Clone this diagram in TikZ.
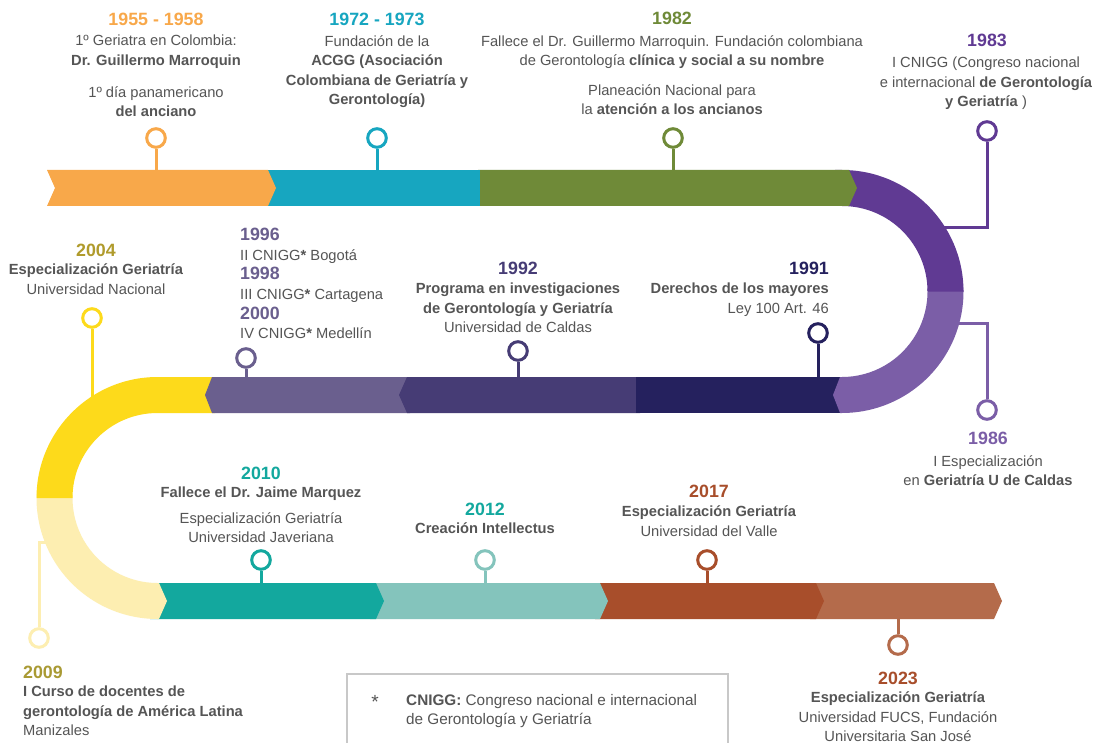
\documentclass[tikz,border=0pt]{standalone}
\usepackage{fontspec}
\setmainfont{Liberation Sans}
\definecolor{tgray}{HTML}{555555}
\definecolor{corange}{HTML}{F8A84A}
\definecolor{cteal}{HTML}{17A6C0}
\definecolor{cgreen}{HTML}{6F8A38}
\definecolor{cpurple}{HTML}{603A93}
\definecolor{clpurple}{HTML}{7B5EA7}
\definecolor{cnavy}{HTML}{25215E}
\definecolor{cdpurple}{HTML}{463C75}
\definecolor{clav}{HTML}{6A5F8E}
\definecolor{cyellow}{HTML}{FDDA1B}
\definecolor{clyellow}{HTML}{FDEEB1}
\definecolor{cteal2}{HTML}{13A89E}
\definecolor{clteal}{HTML}{84C4BC}
\definecolor{crust}{HTML}{A84E2B}
\definecolor{clrust}{HTML}{B46B4B}
\definecolor{colive}{HTML}{B09B2C}
\definecolor{colive2}{HTML}{A99A34}
\definecolor{cboxline}{HTML}{C8C8C8}
\newcommand{\yrtxt}[2]{{\fontsize{17.8}{19.6}\selectfont\bfseries\color{#1}#2}}
\begin{document}
\begin{tikzpicture}[x=1pt,y=-1pt,
  body/.style={font=\fontsize{14.7}{19.5}\selectfont, text=tgray, inner sep=0pt, align=center, anchor=north},
  year/.style={font=\fontsize{17.8}{20}\selectfont\bfseries, inner sep=0pt, anchor=base},
  stem/.style={line width=3pt},
  pinhead/.style={circle, draw, line width=3pt, fill=white, minimum size=18.6pt, inner sep=0pt}]
\useasboundingbox (0,0) rectangle (1097,743);
\fill[white] (0,0) rectangle (1097,743);

% ---------- pins (drawn first, bands cover stem ends) ----------
\node[pinhead, draw=corange] (p1955) at (156,138) {};
\coordinate (b1955) at (156,175);
\draw[stem, corange] (p1955) -- (b1955);
\node[pinhead, draw=cteal] (p1972) at (377,138) {};
\coordinate (b1972) at (377,175);
\draw[stem, cteal] (p1972) -- (b1972);
\node[pinhead, draw=cgreen] (p1982) at (673,138) {};
\coordinate (b1982) at (673,175);
\draw[stem, cgreen] (p1982) -- (b1982);
\node[pinhead, draw=cpurple] (p1983) at (987,131) {};
\coordinate (b1983) at (940,228);
\draw[stem, cpurple] (p1983) -- (987,228) -- (b1983);
\node[pinhead, draw=clpurple] (p1986) at (987,410) {};
\coordinate (b1986) at (950,323);
\draw[stem, clpurple] (p1986) -- (987,323) -- (b1986);
\node[pinhead, draw=cnavy] (p1991) at (818,333) {};
\coordinate (b1991) at (818,382);
\draw[stem, cnavy] (p1991) -- (b1991);
\node[pinhead, draw=cdpurple] (p1992) at (518,351) {};
\coordinate (b1992) at (518,382);
\draw[stem, cdpurple] (p1992) -- (b1992);
\node[pinhead, draw=clav] (p1996) at (246,358) {};
\coordinate (b1996) at (246,382);
\draw[stem, clav] (p1996) -- (b1996);
\node[pinhead, draw=cyellow] (p2004) at (92,318) {};
\coordinate (b2004) at (92,405);
\draw[stem, cyellow] (p2004) -- (b2004);
\node[pinhead, draw=clyellow] (p2009) at (39,638) {};
\coordinate (b2009) at (52,542);
\draw[stem, clyellow] (p2009) -- (39,542) -- (b2009);
\node[pinhead, draw=cteal2] (p2010) at (261,560) {};
\coordinate (b2010) at (261,588);
\draw[stem, cteal2] (p2010) -- (b2010);
\node[pinhead, draw=clteal] (p2012) at (485,560) {};
\coordinate (b2012) at (485,588);
\draw[stem, clteal] (p2012) -- (b2012);
\node[pinhead, draw=crust] (p2017) at (707,560) {};
\coordinate (b2017) at (707,588);
\draw[stem, crust] (p2017) -- (b2017);
\node[pinhead, draw=clrust] (p2023) at (898,645) {};
\coordinate (b2023) at (898,614);
\draw[stem, clrust] (p2023) -- (b2023);

% ---------- bands (reverse flow order so tips overlay) ----------
% bottom band
\fill[clrust] (810,583) -- (994,583) -- (1002,601) -- (994,619) -- (810,619) -- cycle;
\fill[crust] (595,583) -- (816,583) -- (824,601) -- (816,619) -- (595,619) -- cycle;
\fill[clteal] (370,583) -- (600,583) -- (608,601) -- (600,619) -- (370,619) -- cycle;
\fill[cteal2] (150,583) -- (376,583) -- (384,601) -- (376,619) -- (150,619) -- cycle;
% left curve
\fill[clyellow] (157.5,498) ++(182:121) arc[start angle=182, end angle=90, radius=121]
  -- (159,619) -- (167,601) -- (159,583) -- (157.5,583)
  arc[start angle=90, end angle=182, radius=85] -- cycle;
\fill[cyellow] (215,377) -- (157.5,377) arc[start angle=-90, end angle=-180, radius=121]
  -- (72.5,498) arc[start angle=-180, end angle=-90, radius=85] -- (215,413) -- cycle;
% middle band
\fill[clav] (410,377) -- (212,377) -- (205,395) -- (212,413) -- (410,413) -- cycle;
\fill[cdpurple] (640,377) -- (407,377) -- (399,395) -- (407,413) -- (640,413) -- cycle;
\fill[cnavy] (636,377) rectangle (846,413);
% right curve
\fill[clpurple] (842,291.5) ++(-2:121.5) arc[start angle=-2, end angle=90, radius=121.5]
  -- (840,413) -- (833,395) -- (840,377) -- (842,377)
  arc[start angle=90, end angle=-2, radius=85.5] -- cycle;
\fill[cpurple] (835,170) -- (842,170) arc[start angle=-90, end angle=0, radius=121.5]
  -- (927.5,291.5) arc[start angle=0, end angle=-90, radius=85.5] -- (835,206) -- cycle;
% top band
\fill[cgreen] (478,170) -- (849,170) -- (857,188) -- (849,206) -- (478,206) -- cycle;
\fill[cteal] (266,170) -- (480,170) -- (480,206) -- (266,206) -- cycle;
\fill[corange] (47,170) -- (268,170) -- (276,188) -- (268,206) -- (47,206) -- (55,188) -- cycle;

% ---------- texts ----------
\node[year, text=corange] (y1955) at (156,25.5) {1955 - 1958};
\node[body] (t1955a) at (156,35) {1º Geriatra en Colombia:\\\textbf{Dr. Guillermo Marroquin}};
\node[body] (t1955b) at (156,86) {1º día panamericano\\\textbf{del anciano}};

\node[year, text=cteal] (y1972) at (377,25.5) {1972 - 1973};
\node[body] (t1972) at (377,35) {Fundación de la\\\textbf{ACGG (Asociación}\\\textbf{Colombiana de Geriatría y}\\\textbf{Gerontología)}};

\node[year, text=cgreen] (y1982) at (672,25) {1982};
\node[body] (t1982a) at (672,35) {Fallece el Dr. Guillermo Marroquin. Fundación colombiana\\de Gerontología \textbf{clínica y social a su nombre}};
\node[body] (t1982b) at (672,84) {Planeación Nacional para\\la \textbf{atención a los ancianos}};

\node[year, text=cpurple] (y1983) at (987,47) {1983};
\node[body] (t1983) at (986,57) {I CNIGG (Congreso nacional\\e internacional \textbf{de Gerontología}\\\textbf{y Geriatría} )};

\node[year, text=colive] (y2004) at (96,257) {2004};
\node[body] (t2004) at (96,264) {\textbf{Especialización Geriatría}\\Universidad Nacional};

\node[anchor=north west, inner sep=0pt, align=left, font=\fontsize{14.7}{19.6}\selectfont, text=tgray] (t1996) at (240,228)
  {\yrtxt{clav}{1996}\\II CNIGG\textbf{*} Bogotá\\\yrtxt{clav}{1998}\\III CNIGG\textbf{*} Cartagena\\\yrtxt{clav}{2000}\\IV CNIGG\textbf{*} Medellín};

\node[year, text=cdpurple] (y1992) at (518,274) {1992};
\node[body] (t1992) at (518,283) {\textbf{Programa en investigaciones}\\\textbf{de Gerontología y Geriatría}\\Universidad de Caldas};

\node[year, text=cnavy, anchor=base east] (y1991) at (829,275) {1991};
\node[body, anchor=north east, align=right] (t1991) at (829,283) {\textbf{Derechos de los mayores}\\Ley 100 Art. 46};

\node[year, text=clpurple] (y1986) at (988,444) {1986};
\node[body] (t1986) at (988,455) {I Especialización\\en \textbf{Geriatría U de Caldas}};

\node[year, text=cteal2] (y2010) at (261,479) {2010};
\node[body] (t2010a) at (261,487) {\textbf{Fallece el Dr. Jaime Marquez}};
\node[body] (t2010b) at (261,512) {Especialización Geriatría\\Universidad Javeriana};

\node[year, text=cteal2] (y2012) at (485,515) {2012};
\node[body] (t2012) at (485,523) {\textbf{Creación Intellectus}};

\node[year, text=crust] (y2017) at (709,497) {2017};
\node[body] (t2017) at (709,506) {\textbf{Especialización Geriatría}\\Universidad del Valle};

\node[year, text=colive2, anchor=base west] (y2009) at (23,678) {2009};
\node[body, anchor=north west, align=left] (t2009) at (23,686) {\textbf{I Curso de docentes de}\\\textbf{gerontología de América Latina}\\Manizales};

\node[year, text=crust] (y2023) at (898,684) {2023};
\node[body] (t2023) at (898,692) {\textbf{Especialización Geriatría}\\Universidad FUCS, Fundación\\Universitaria San José};

% ---------- legend ----------
\draw[cboxline, line width=1.5pt] (347,746) -- (347,674) -- (728,674) -- (728,746);
\node[inner sep=0pt, anchor=base, text=tgray, font=\fontsize{19}{20}\selectfont] (ast) at (375,708) {*};
\node[body, anchor=north west, align=left, font=\fontsize{15.3}{19.5}\selectfont] (legend) at (406,694) {\textbf{CNIGG:} Congreso nacional e internacional\\de Gerontología y Geriatría};
\end{tikzpicture}
\end{document}
